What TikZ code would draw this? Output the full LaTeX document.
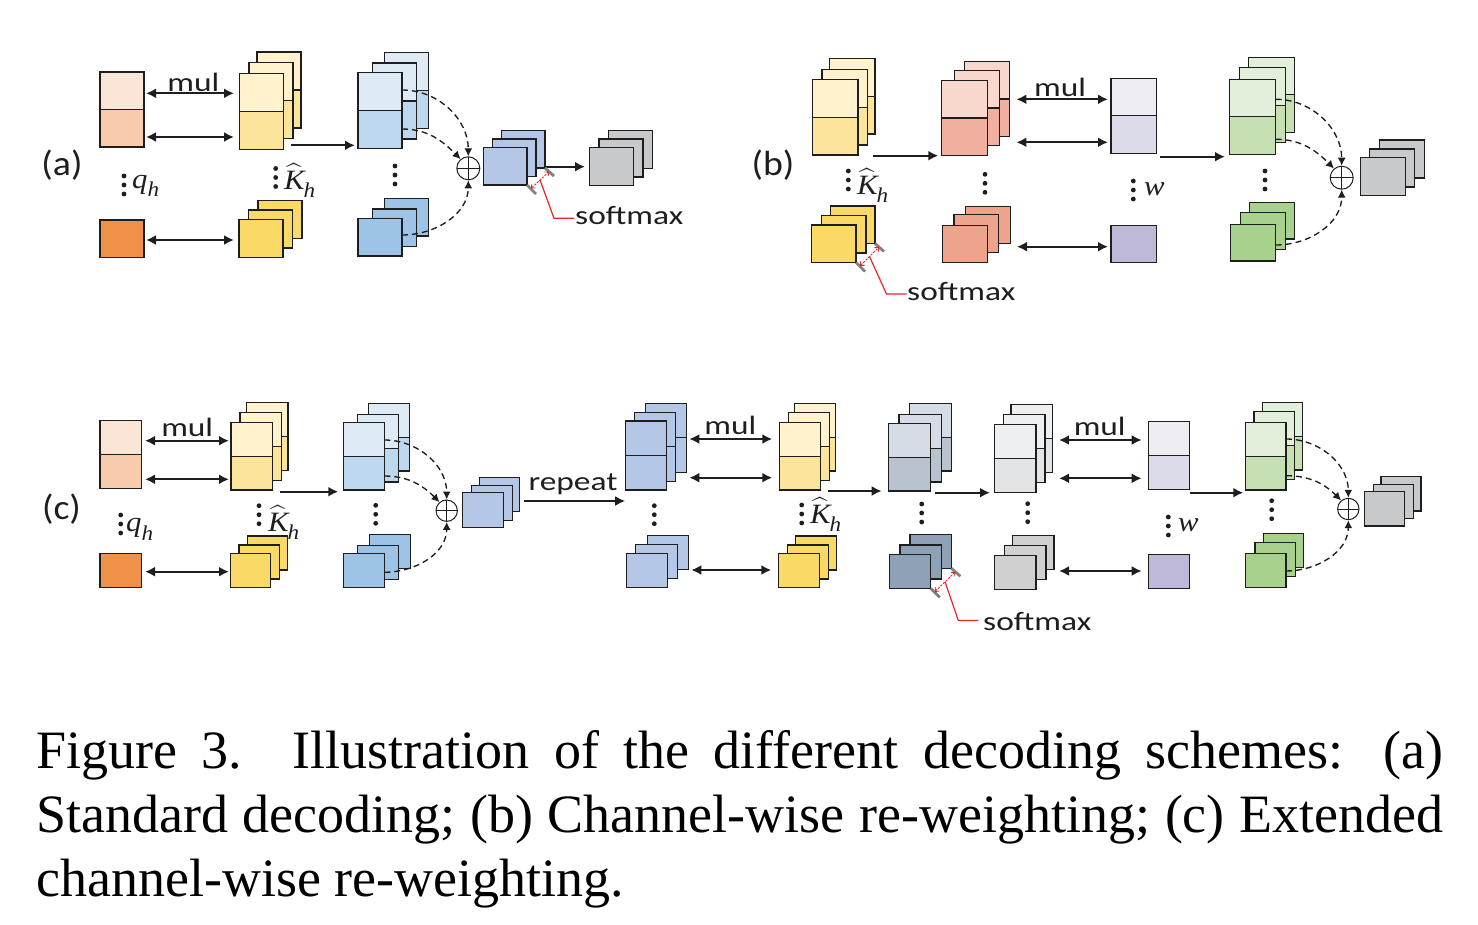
\documentclass[tikz,border=0pt]{standalone}
\usepackage{amsmath}
\usepackage[no-math]{fontspec}
\setmainfont{Liberation Serif}
\newfontfamily\labf{Carlito}
\usepackage{graphicx}
\usetikzlibrary{arrows.meta,calc}
\exhyphenpenalty=10000 \hyphenpenalty=10000 \tolerance=9999
\definecolor{qA}{HTML}{FBE5D6}\definecolor{qB}{HTML}{F8CBAD}\definecolor{qC}{HTML}{F0914A}
\definecolor{kA}{HTML}{FFF2CC}\definecolor{kB}{HTML}{FCE49B}\definecolor{kC}{HTML}{FAD966}
\definecolor{vA}{HTML}{DEEBF7}\definecolor{vB}{HTML}{BDD7EE}\definecolor{vC}{HTML}{9DC3E6}
\definecolor{sB}{HTML}{B4C7E7}\definecolor{gR}{HTML}{C8C9CA}
\definecolor{rA}{HTML}{F8D7CD}\definecolor{rB}{HTML}{F0AF9F}\definecolor{rC}{HTML}{EEA38D}
\definecolor{wA}{HTML}{EEEDF4}\definecolor{wB}{HTML}{DCDBEA}\definecolor{wC}{HTML}{BEB9D8}
\definecolor{gA}{HTML}{E2EFDA}\definecolor{gB}{HTML}{C6E0B4}\definecolor{gC}{HTML}{A9D18E}
\definecolor{bgA}{HTML}{D6DCE5}\definecolor{bgB}{HTML}{B9C3D0}\definecolor{bgC}{HTML}{8FA1B7}
\definecolor{lgA}{HTML}{EEEFF0}\definecolor{lgB}{HTML}{E2E4E6}\definecolor{lgC}{HTML}{D0D0D1}
\definecolor{ink}{HTML}{1E1E1E}\definecolor{redl}{HTML}{E8262A}
\newif\ifsplit
\newcommand\twocol[2]{\def\cA{#1}\def\cB{#2}\splittrue}
\newcommand\onecol[1]{\def\cA{#1}\def\cB{#1}\splitfalse}
\newcommand\lay[5]{\node[lay=\cA, minimum width=#4pt, minimum height=#5pt] (#1) at (#2,#3) {};%
  \ifsplit\draw[laybor, fill=\cB] (#1.west) rectangle (#1.south east);\fi}
\newcommand\stk[9]{\lay{#1-3}{#2+#8}{#3+#9}{#4}{#5}\lay{#1-2}{#2+#6}{#3+#7}{#4}{#5}\lay{#1}{#2}{#3}{#4}{#5}}
\newcommand\harr[6]{\draw[#1, shorten <=#5pt, shorten >=#6pt] (#2.east |- 0,#4) -- (#3.west |- 0,#4);}
\newcommand\vd[3]{\node[inner sep=0pt, minimum size=1pt] (#1) at (#2,#3) {};%
  \fill[ink] (#2,#3-9) circle[radius=2.4pt] (#2,#3) circle[radius=2.4pt] (#2,#3+9) circle[radius=2.4pt];}
\newcommand\smax[4]{%
  \draw[tickst] (#1.south east) -- ++(9,9);
  \draw[tickst] (#2.south east) -- ++(9,8);
  \coordinate (#4a) at ($(#1.south east)+(4,3.5)$);
  \coordinate (#4b) at ($(#2.south east)+(4,3.5)$);
  \draw[redim] (#4a) -- (#4b);
  \draw[redlead] ($(#4a)!0.5!(#4b)$) -- (#3) -- ++(20,0) coordinate (#4c);}
\newcommand\sx[1]{\scalebox{1.26}[1]{#1}}
\newcommand\sy[1]{\scalebox{1.08}[1]{#1}}
\newcommand\mx[1]{\scalebox{1.1}[1]{#1}}
\newcommand\subh{\raisebox{-0.3em}{\fontsize{21}{21}\selectfont\itshape h}}
\newcommand\qh{\mx{{\itshape q}\subh}}
\newcommand\kh{\mx{$\widehat{\text{\itshape K}}$\kern-1pt\subh}}
\newcommand\wv{\mx{\itshape w}}
\tikzset{
  lay/.style={draw=ink, line width=1.1pt, inner sep=0pt, outer sep=0pt, anchor=north west, fill=#1},
  laybor/.style={draw=ink, line width=1.1pt},
  sar/.style={draw=ink, line width=2.1pt, -{Latex[length=10pt,width=10pt]}},
  dar/.style={draw=ink, line width=2.1pt, {Latex[length=10pt,width=10pt]}-{Latex[length=10pt,width=10pt]}},
  dsh/.style={draw=ink, line width=1.35pt, dash pattern=on 6pt off 4pt, -{Latex[length=8pt,width=8pt]}},
  oplus/.style={circle, draw=ink, line width=1pt, inner sep=0pt, minimum size=#1,
    path picture={\draw[ink, line width=0.8pt] (path picture bounding box.north) -- (path picture bounding box.south)
      (path picture bounding box.west) -- (path picture bounding box.east);}},
  tickst/.style={draw=black!50, line width=2.8pt},
  redim/.style={draw=redl, line width=0.9pt, dash pattern=on 2.2pt off 1.3pt, {Straight Barb[length=3pt,width=5.5pt]}-{Straight Barb[length=3pt,width=5.5pt]}},
  redlead/.style={draw=redl, line width=1.2pt},
  lab/.style={font=\labf\fontsize{26.5}{30}\selectfont, inner sep=0pt, text=ink},
  plab/.style={font=\labf\fontsize{35}{38}\selectfont, inner sep=0pt, text=ink},
  mth/.style={font=\fontsize{28}{30}\selectfont, inner sep=0pt, text=ink},
}
\begin{document}
\begin{tikzpicture}[x=1pt,y=-1pt]
\useasboundingbox (0,0) rectangle (1478,924);
% ---------------- (a)
\node[plab, anchor=base] (alab) at (62,175) {\sy{(a)}};
\twocol{qA}{qB}\lay{aq}{100}{72}{44}{75}
\onecol{qC}\lay{aqb}{100}{220}{44}{37.5}
\twocol{kA}{kB}\stk{aK}{239.5}{73.5}{44}{76}{9.5}{-11}{17.5}{-21.5}
\onecol{kC}\stk{aKb}{239}{219.5}{44}{38}{9.5}{-9.5}{19}{-19}
\twocol{vA}{vB}\stk{aV}{358}{72.5}{44}{76}{14.5}{-9.5}{26.5}{-20}
\onecol{vC}\stk{aVb}{358}{218.5}{44}{37.5}{14.5}{-9.5}{26.5}{-20}
\node[oplus=23pt] (aO) at (468.3,168.3) {};
\onecol{sB}\stk{aS}{483.5}{147.5}{43.5}{37.5}{9}{-8.5}{18}{-17}
\onecol{gR}\stk{aG}{589.5}{147.5}{44}{38}{9.5}{-8.5}{19}{-17}
\node[lab, anchor=base] (amul) at (193.3,91.7) {\sx{mul}};
\vd{ad1}{124}{185}\node[mth, anchor=base west] (aqh) at (132,188) {\qh};
\vd{ad2}{275.7}{177.5}\node[mth, anchor=base west] (akh) at (284,189) {\kh};
\vd{ad3}{395}{175}
\harr{dar}{aq}{aK}{93.3}{2}{5.5}
\harr{dar}{aq}{aK}{137}{2}{5.5}
\harr{dar}{aqb}{aKb}{240}{2}{5}
\harr{sar}{aK}{aV}{145.3}{7.5}{3}
\harr{sar}{aS-3}{aG}{166.7}{0.7}{4.5}
\draw[dsh] (aV.east |- 0,90) to[out=0,in=90] (aO.north);
\draw[dsh] (aV.east |- 0,129) to[out=0,in=135] (aO.130);
\draw[dsh] (aVb.east |- 0,235) to[out=0,in=-90] (aO.south);
\smax{aS}{aS-3}{554,218.3}{asm}
\node[lab, anchor=base west] (asmt) at (575,224) {\sx{softmax}};
% ---------------- (b)
\node[plab, anchor=base] (blab) at (773,175) {\sy{(b)}};
\twocol{kA}{kB}\stk{bK}{812.5}{79.5}{45.5}{75.5}{9.5}{-10}{17}{-21}
\onecol{kC}\stk{bKb}{811.5}{225}{44.5}{37.5}{10}{-9.5}{19}{-19}
\vd{bd1}{848.3}{180}\node[mth, anchor=base west] (bkh) at (857,194) {\kh};
\twocol{rA}{rB}\stk{bR}{941.7}{80.7}{45.5}{74.5}{12.5}{-10}{22.5}{-19}
\onecol{rC}\stk{bRb}{942.5}{225.3}{44.8}{37.4}{11.5}{-10.5}{23}{-19}
\vd{bd2}{985}{183.3}
\twocol{wA}{wB}\lay{bw}{1111}{78.3}{45.7}{75}
\onecol{wC}\lay{bwb}{1111}{225.7}{45.7}{36.7}
\vd{bd3}{1133.3}{190}\node[mth, anchor=base west] (bwl) at (1144,195) {\wv};
\node[lab, anchor=base] (bmul) at (1060,96) {\sx{mul}};
\twocol{gA}{gB}\stk{bG}{1229.3}{79.3}{46.4}{75}{10}{-11.6}{19}{-22}
\onecol{gC}\stk{bGb}{1230.3}{224.3}{45.4}{36.7}{10}{-11.6}{19}{-22}
\vd{bd4}{1265}{180}
\node[oplus=23pt] (bO) at (1341.7,177.7) {};
\onecol{gR}\stk{bGr}{1360.7}{157.3}{45}{38}{8.6}{-8.3}{18.6}{-17.3}
\harr{sar}{bK}{bR}{155.7}{15.3}{3.4}
\harr{dar}{bR-3}{bw}{99.3}{6.7}{3}
\harr{dar}{bR-3}{bw}{142.3}{6.7}{3}
\harr{dar}{bRb-3}{bwb}{246.7}{6.7}{3}
\harr{sar}{bw}{bG}{156.7}{3.3}{4.3}
\draw[dsh] (bG.east |- 0,99.3) to[out=0,in=90] (bO.north);
\draw[dsh] (bG.east |- 0,139.3) to[out=0,in=135] (bO.130);
\draw[dsh] (bGb.east |- 0,245) to[out=0,in=-90] (bO.south);
\smax{bKb}{bKb-3}{886.5,294}{bsm}
\node[lab, anchor=base west] (bsmt) at (907,300) {\sx{softmax}};
% ---------------- (c)
\node[plab, anchor=base] (clab) at (61.5,519.5) {\sy{(c)}};
\twocol{qA}{qB}\lay{cq}{100}{420.7}{41.7}{67.6}
\onecol{qC}\lay{cqb}{100}{553.3}{41.7}{34}
\vd{cd1}{120.7}{524}\node[mth, anchor=base west] (cqh) at (126,531.7) {\qh};
\node[lab, anchor=base] (cmul1) at (187.2,436.7) {\sx{mul}};
\twocol{kA}{kB}\stk{cK}{231}{422.3}{41.3}{67.7}{9}{-9.6}{15.7}{-19.6}
\onecol{kC}\stk{cKb}{230.3}{553.3}{40.4}{34}{8.7}{-8.3}{17}{-17.3}
\vd{cd2}{259}{514.7}\node[mth, anchor=base west] (ckh) at (268,531) {\kh};
\twocol{vA}{vB}\stk{cV}{343.3}{422.3}{41}{67.7}{14}{-8}{25}{-19}
\onecol{vC}\stk{cVb}{343.3}{553.3}{41}{34}{14}{-7.6}{26}{-19}
\vd{cd3}{375.7}{514.3}
\node[oplus=21.4pt] (cO) at (446.7,510.7) {};
\onecol{sB}\stk{cS}{462.7}{492.7}{40.6}{34.6}{9}{-7}{16.6}{-15.4}
\node[lab, anchor=base] (crep) at (573,490) {\sx{repeat}};
\twocol{sB}{sB}\stk{cB}{625.7}{421}{41}{69}{8.7}{-8.7}{20}{-17.7}
\onecol{sB}\stk{cBb}{626.3}{553.3}{41.4}{34}{9.4}{-9}{21}{-18}
\vd{cd4}{654.3}{514.7}
\node[lab, anchor=base] (cmul2) at (730.3,434.3) {\sx{mul}};
\twocol{kA}{kB}\stk{cK2}{779.3}{422.3}{41.4}{67.7}{9}{-9.6}{15}{-19}
\onecol{kC}\stk{cK2b}{778.3}{553.3}{41}{34}{9}{-8.3}{17.4}{-17.3}
\vd{cd5}{801.7}{514}\node[mth, anchor=base west] (ck2h) at (810,523) {\kh};
\twocol{bgA}{bgB}\stk{cGB}{888.3}{423.3}{42.4}{67.7}{10.7}{-9}{21}{-20}
\onecol{bgC}\stk{cGBb}{889.3}{554.3}{41.4}{34}{10.7}{-9.3}{20.7}{-20}
\vd{cd6}{921.7}{513}
\twocol{lgA}{lgB}\stk{cLG}{994.3}{424.3}{41.7}{68}{9}{-10}{16.7}{-20}
\onecol{lgC}\stk{cLGb}{994.3}{555.7}{41.7}{33.6}{10}{-10}{18}{-20}
\vd{cd7}{1027.7}{512.7}
\node[lab, anchor=base] (cmul3) at (1099.7,435) {\sx{mul}};
\twocol{wA}{wB}\lay{cw}{1148.3}{421.7}{41}{67.6}
\onecol{wC}\lay{cwb}{1148.3}{554.3}{41}{34}
\vd{cd8}{1168.3}{526}\node[mth, anchor=base west] (cwl) at (1178,531.7) {\wv};
\twocol{gA}{gB}\stk{cG}{1245.7}{422.3}{40.3}{67.7}{8.3}{-10.6}{16.6}{-20}
\onecol{gC}\stk{cGb}{1245.7}{553.3}{40.3}{34}{9.3}{-10.6}{17.6}{-20}
\vd{cd9}{1271.7}{509.7}
\node[oplus=21.4pt] (cO2) at (1348.3,509) {};
\onecol{gR}\stk{cGr}{1364.3}{491.7}{40}{34.3}{9}{-7.4}{16.7}{-15}
\harr{dar}{cq}{cK}{440.7}{3.3}{2}
\harr{dar}{cq}{cK}{479.3}{3.3}{2}
\harr{dar}{cqb}{cKb}{571.7}{3.3}{1.3}
\harr{sar}{cK}{cV}{491.7}{7.7}{5}
\harr{sar}{cS-3}{cB}{501}{4}{0.5}
\harr{dar}{cB-3}{cK2}{439}{2.6}{7}
\harr{dar}{cB-3}{cK2}{477.7}{2.6}{7}
\harr{dar}{cBb-3}{cK2b}{570}{2.6}{7}
\harr{sar}{cK2}{cGB}{491}{7.6}{6.6}
\harr{sar}{cGB}{cLG}{492.7}{4.3}{4.3}
\harr{dar}{cLG-3}{cw}{440}{6.3}{6.6}
\harr{dar}{cLG-3}{cw}{478.3}{6.3}{6.6}
\harr{dar}{cLGb-3}{cwb}{571}{5}{6.6}
\harr{sar}{cw}{cG}{492.7}{0.5}{2.4}
\draw[dsh] (cV.east |- 0,440) to[out=0,in=90] (cO.north);
\draw[dsh] (cV.east |- 0,476) to[out=0,in=135] (cO.130);
\draw[dsh] (cVb.east |- 0,572.3) to[out=0,in=-90] (cO.south);
\draw[dsh] (cG.east |- 0,439) to[out=0,in=90] (cO2.north);
\draw[dsh] (cG.east |- 0,475.7) to[out=0,in=135] (cO2.130);
\draw[dsh] (cGb.east |- 0,571) to[out=0,in=-90] (cO2.south);
\smax{cGBb}{cGBb-3}{958.3,620.5}{csm}
\node[lab, anchor=base west] (csmt) at (983,630.5) {\sx{softmax}};
% ---------------- caption
\node[anchor=north west, inner sep=0pt, text width=1407pt, align=justify,
  font=\fontsize{54}{64}\selectfont] (cap) at (36,730.5)
  {Figure 3. Illustration of the different decoding schemes: (a)\linebreak
   Standard decoding; (b) \mbox{Channel-wise} \mbox{re-weighting}; (c) Extended\linebreak
   \mbox{channel-wise} \mbox{re-weighting}.};
\end{tikzpicture}
\end{document}
